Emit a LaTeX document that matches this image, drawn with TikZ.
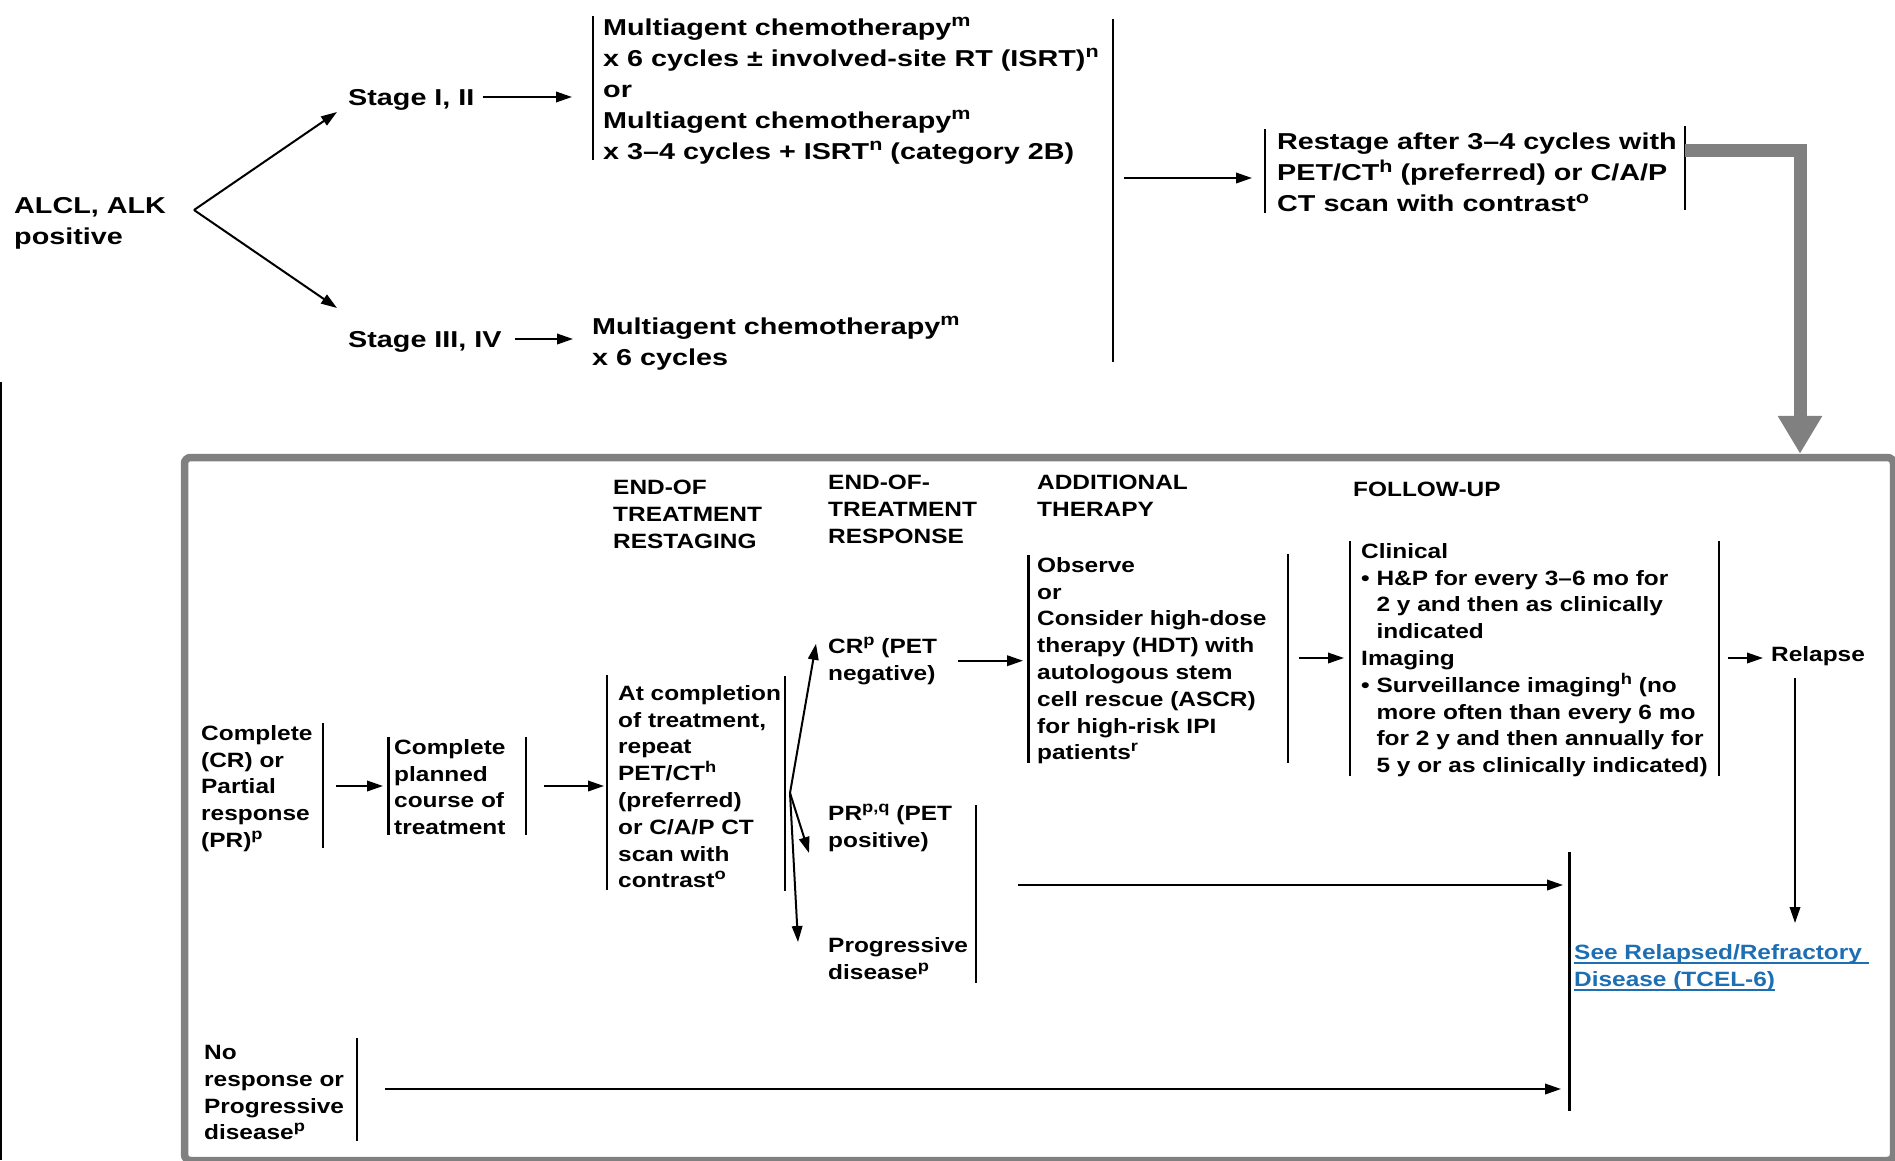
\documentclass[tikz,border=0pt]{standalone}
\usepackage{fontspec}
\setmainfont{Liberation Sans}[FakeStretch=1.18]
\newfontfamily\topfont{Liberation Sans}[FakeStretch=1.25, Ligatures=TeX]
\usepackage{graphicx}
\usepackage{tikz}
\usetikzlibrary{arrows.meta}
\definecolor{framegray}{RGB}{128,128,128}
\definecolor{linkblue}{RGB}{30,110,180}
\newcommand\sups[1]{\raisebox{0.38em}{\scalebox{0.75}{#1}}}
\newcommand\bulind{\hphantom{\textbullet\ }}
\newsavebox\lnkbox
\newcommand\lnk[1]{\sbox\lnkbox{#1}\rlap{\rule[-4.5pt]{\wd\lnkbox}{1.6pt}}\usebox\lnkbox}
\tikzset{
  toptxt/.style={anchor=north west, inner sep=0pt, align=left, font=\topfont\fontsize{23}{31}\selectfont\bfseries},
  topone/.style={anchor=west, inner sep=0pt, text height=16.5pt, text depth=0pt, font=\topfont\fontsize{23}{31}\selectfont\bfseries},
  lowtxt/.style={anchor=north west, inner sep=0pt, align=left, font=\fontsize{20.7}{26.8}\selectfont\bfseries},
  lowone/.style={anchor=west, inner sep=0pt, text height=14.8pt, text depth=0pt, font=\fontsize{20.7}{26.8}\selectfont\bfseries},
  sidebar/.style={line width=2.4pt},
  arr/.style={line width=2pt, -{Triangle[length=16pt,width=10.5pt]}},
  grayarr/.style={draw=framegray, line width=13pt, line join=miter, -{Triangle[length=38pt,width=42pt]}}
}

\begin{document}
\begin{tikzpicture}[x=1pt,y=-1pt]
\useasboundingbox (0,0) rectangle (1895,1160);
\draw[line width=2pt] (1,382) -- (1,1160);

\node[toptxt] (alcl) at (14,197) {ALCL, ALK\\positive};
\node[topone] (stage12) at (348,97) {Stage I, II};
\node[topone] (stage34) at (348,339) {Stage III, IV};
\node[toptxt] (chemoA) at (603,17.5) {Multiagent chemotherapy\sups{m}\\x 6 cycles ± involved-site RT (ISRT)\sups{n}\\or\\Multiagent chemotherapy\sups{m}\\x 3--4 cycles + ISRT\sups{n} (category 2B)};
\node[toptxt] (chemoB) at (592,316.5) {Multiagent chemotherapy\sups{m}\\x 6 cycles};
\node[toptxt] (restage) at (1277,133) {Restage after 3--4 cycles with\\PET/CT\sups{h} (preferred) or C/A/P\\CT scan with contrast\sups{o}};

\coordinate (fork) at (194,210);
\coordinate (bigbar) at (1113,178);
\coordinate (restR) at (1685,150.5);
\coordinate (turn) at (1800,150.5);

\draw[sidebar] (593,16) -- (593,160);
\draw[sidebar] (1113,19) -- (1113,362);
\draw[sidebar] (1265,129) -- (1265,213);
\draw[sidebar] (1685,126) -- (1685,210);

\draw[arr] (fork) -- ([xshift=-11pt,yshift=-15pt]stage12.west);
\draw[arr] (fork) -- ([xshift=-11pt,yshift=31pt]stage34.west);
\draw[arr, shorten <=8pt, shorten >=31pt] (stage12.east) -- (stage12.east -| chemoA.west);
\draw[arr, shorten <=13pt, shorten >=19pt] (stage34.east) -- (stage34.east -| chemoB.west);
\draw[arr, shorten <=11pt, shorten >=25pt] (bigbar) -- (bigbar -| restage.west);

\node[draw=framegray, line width=7.5pt, rounded corners=6pt, outer sep=0pt, inner sep=0pt, minimum width=1709pt, minimum height=703pt, anchor=north west] (frame) at (184.5,457.5) {};
\draw[grayarr, shorten >=3.75pt] (restR) -- (turn) -- (turn |- frame.north);

\node[lowtxt] (hdrRestage) at (613,480) {END-OF\\TREATMENT\\RESTAGING};
\node[lowtxt] (hdrResponse) at (828,475) {END-OF-\\TREATMENT\\RESPONSE};
\node[lowtxt] (hdrTherapy) at (1037,475) {ADDITIONAL\\THERAPY};
\node[lowtxt] (hdrFollow) at (1353,482) {FOLLOW-UP};

\node[lowtxt] (crpr) at (201,725) {Complete\\(CR) or\\Partial\\response\\(PR)\sups{p}};
\node[lowtxt] (planned) at (394,739) {Complete\\planned\\course of\\treatment};
\node[lowtxt] (atend) at (618,685) {At completion\\of treatment,\\repeat\\PET/CT\sups{h}\\(preferred)\\or C/A/P CT\\scan with\\contrast\sups{o}};
\node[lowtxt] (crneg) at (828,636.8) {CR\sups{p} (PET\\negative)};
\node[lowtxt] (prpos) at (828,804) {PR\sups{p,q} (PET\\positive)};
\node[lowtxt] (progdis) at (828,937) {Progressive\\disease\sups{p}};
\node[lowtxt] (addther) at (1037,557) {Observe\\or\\Consider high-dose\\therapy (HDT) with\\autologous stem\\cell rescue (ASCR)\\for high-risk IPI\\patients\sups{r}};
\node[lowtxt] (follow) at (1361,543) {Clinical\\\textbullet\ H\&P for every 3--6 mo for\\\bulind 2 y and then as clinically\\\bulind indicated\\Imaging\\\textbullet\ Surveillance imaging\sups{h} (no\\\bulind more often than every 6 mo\\\bulind for 2 y and then annually for\\\bulind 5 y or as clinically indicated)};
\node[lowone] (relapse) at (1771,654) {Relapse};
\node[lowtxt, text=linkblue] (seelink) at (1574,944) {\lnk{See Relapsed/Refractory\ }\\\lnk{Disease (TCEL-6)}};
\node[lowtxt] (nores) at (204,1045) {No\\response or\\Progressive\\disease\sups{p}};

\draw[sidebar] (323,723) -- (323,848);
\draw[sidebar] (388.5,737) -- (388.5,835);
\draw[sidebar] (526,737) -- (526,835);
\draw[sidebar] (607,675) -- (607,890);
\draw[sidebar] (785,676) -- (785,891);
\draw[sidebar] (976,805) -- (976,983);
\draw[sidebar] (1028.5,555) -- (1028.5,763);
\draw[sidebar] (1288,554) -- (1288,763);
\draw[sidebar] (1350,541) -- (1350,776);
\draw[sidebar] (1719,541) -- (1719,776);
\draw[sidebar] (1569.5,852) -- (1569.5,1111);
\draw[sidebar] (357,1038) -- (357,1141);

\coordinate (crR) at (323,786);
\coordinate (planR) at (526,786);
\coordinate (fork2) at (790,793);
\coordinate (addR) at (1288,658);
\coordinate (folR) at (1719,658);
\coordinate (rl) at (1795,678);
\coordinate (prR) at (976,885);
\coordinate (noR) at (357,1089);

\draw[arr, shorten <=13pt, shorten >=11pt] (crR) -- (crR -| planned.west);
\draw[arr, shorten <=18pt, shorten >=14pt] (planR) -- (planR -| atend.west);
\draw[arr] (fork2) -- ([xshift=-12pt,yshift=-7pt]crneg.north west);
\draw[arr] (fork2) -- ([xshift=-19pt,yshift=-49pt]prpos.north west);
\draw[arr] (fork2) -- ([xshift=-30pt,yshift=-5pt]progdis.north west);
\draw[arr, shorten <=21pt, shorten >=14pt] (crneg.east) -- (crneg.east -| addther.west);
\draw[arr, shorten <=11pt, shorten >=17pt] (addR) -- (addR -| follow.west);
\draw[arr, shorten <=9pt, shorten >=8pt] (folR) -- (folR -| relapse.west);
\draw[arr, shorten >=21pt] (rl) -- (rl |- seelink.north);
\draw[arr, shorten <=42pt, shorten >=11pt] (prR) -- (prR -| seelink.west);
\draw[arr, shorten <=28pt, shorten >=13pt] (noR) -- (noR -| seelink.west);
\end{tikzpicture}
\end{document}
